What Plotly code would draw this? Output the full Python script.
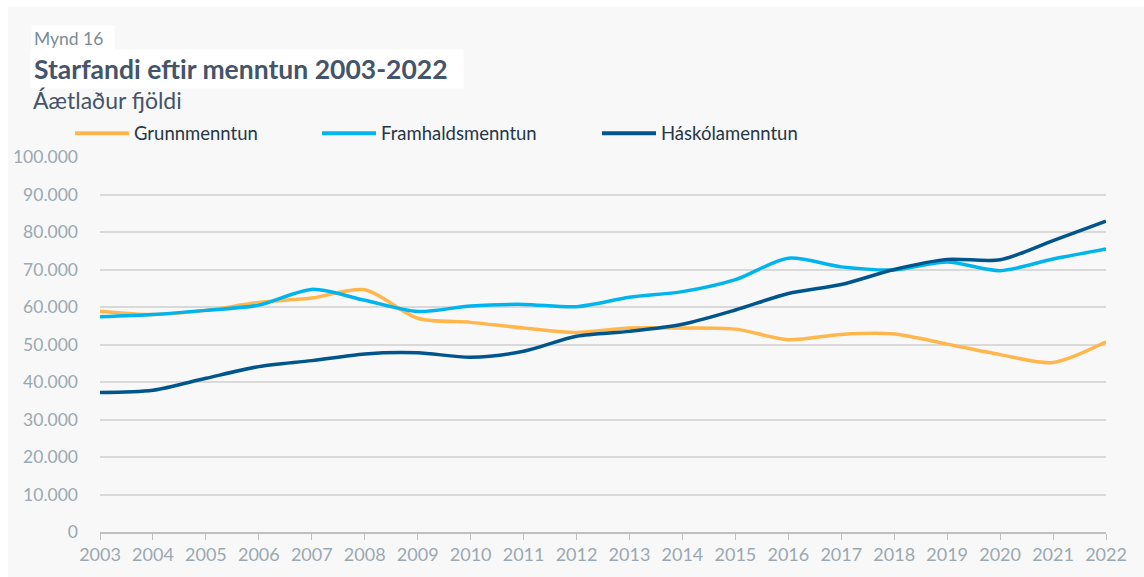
import plotly.graph_objects as go

years = list(range(2003, 2023))
series_names = ["Grunnmenntun", "Framhaldsmenntun", "Háskólamenntun"]
grunn = [58900, 58000, 59100, 61200, 62400, 64600, 57000, 55900, 54400, 53200,
         54400, 54400, 54100, 51300, 52700, 52800, 50100, 47300, 45200, 50700]
framh = [57400, 58000, 59100, 60500, 64700, 61800, 58800, 60300, 60700, 60100,
         62600, 64100, 67300, 73000, 70700, 69900, 72000, 69700, 72800, 75500]
hask = [37200, 37800, 41000, 44100, 45700, 47500, 47800, 46600, 48200, 52200,
        53500, 55400, 59200, 63600, 66000, 70000, 72700, 72600, 77700, 82900]
colors = ["#FFB74D", "#00B4EE", "#00568C"]
y_ticks = list(range(0, 100001, 10000))
y_tick_text = ["0" if v == 0 else f"{v // 1000}.000" for v in y_ticks]

W, H = 1144, 577
L, T = 100, 157
R = W - 1106
B = H - 535
pw, ph = W - L - R, H - T - B


def px(x):
    return (x - L) / pw


def py(y):
    return (H - B - y) / ph


fig = go.Figure()
for name, vals, col in zip(series_names, [grunn, framh, hask], colors):
    fig.add_trace(go.Scatter(x=years, y=vals, name=name, mode="lines",
                             line=dict(color=col, width=3.5, shape="spline", smoothing=0.8),
                             showlegend=False))

shapes = [dict(type="rect", xref="paper", yref="paper", x0=px(8), x1=px(1160),
               y0=py(600), y1=py(6), fillcolor="#F8F8F8", line=dict(width=0), layer="below")]
annotations = []
# legend
leg_x = [75, 322, 602]
for name, col, lx in zip(series_names, colors, leg_x):
    shapes.append(dict(type="line", xref="paper", yref="paper", x0=px(lx), x1=px(lx + 54),
                       y0=py(133), y1=py(133), line=dict(color=col, width=4)))
    annotations.append(dict(text=name, xref="paper", yref="paper", x=px(lx + 57), y=py(133),
                            xanchor="left", yanchor="middle", showarrow=False,
                            font=dict(family="Lato", size=18.5, color="#263646")))

annotations += [
    dict(text="Mynd 16  ", xref="paper", yref="paper", x=px(31), y=py(38), xanchor="left",
         yanchor="middle", showarrow=False, bgcolor="#FFFFFF", borderpad=2,
         font=dict(family="Lato", size=17.5, color="#7A8A96")),
    dict(text="Starfandi eftir menntun 2003-2022  ", xref="paper", yref="paper", x=px(30), y=py(68),
         xanchor="left", yanchor="middle", showarrow=False, bgcolor="#FFFFFF", borderpad=3,
         font=dict(family="Lato", size=26.5, color="#44546A", weight="bold")),
    dict(text="Áætlaður fjöldi", xref="paper", yref="paper", x=px(31), y=py(100), xanchor="left",
         yanchor="middle", showarrow=False,
         font=dict(family="Lato", size=23, color="#44546A")),
]

fig.update_layout(
    width=W, height=H, margin=dict(l=L, r=R, t=T, b=B),
    paper_bgcolor="#FFFFFF", plot_bgcolor="rgba(0,0,0,0)",
    shapes=shapes, annotations=annotations,
    xaxis=dict(range=[2003, 2022], tickmode="array", tickvals=years,
               ticktext=[str(y) for y in years], showgrid=False, zeroline=False,
               showline=True, linecolor="#BFBFBF", linewidth=1.5,
               ticks="outside", ticklen=6, tickcolor="#BFBFBF",
               tickfont=dict(family="Lato", size=18, color="#9AA8B1")),
    yaxis=dict(range=[0, 100000], tickmode="array", tickvals=y_ticks, ticktext=y_tick_text,
               showgrid=True, gridcolor="#D9D9D9", gridwidth=2, zeroline=False,
               showline=False, ticks="", ticklabelstandoff=21,
               tickfont=dict(family="Lato", size=17.5, color="#9AA8B1")),
)
fig.write_html("out.html", config={"displayModeBar": False},
               post_script="document.body.style.margin='0';document.body.style.overflow='hidden';")
